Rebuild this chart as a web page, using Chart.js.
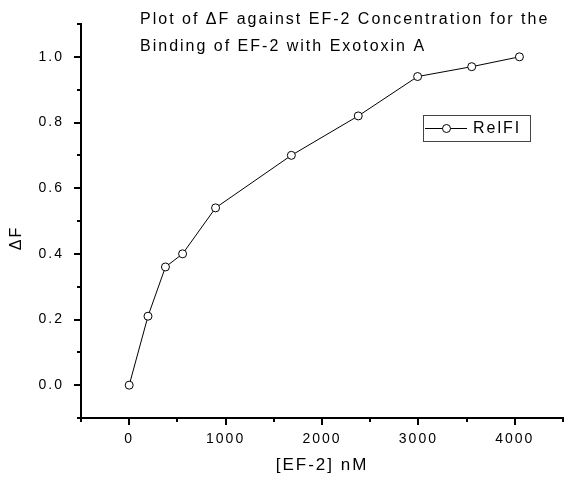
<!DOCTYPE html>
<html>
<head>
<meta charset="utf-8">
<script src="https://cdn.jsdelivr.net/npm/chart.js@4.4.1/dist/chart.umd.min.js"></script>
<style>
  html, body { margin: 0; padding: 0; background: #fff; }
  #wrap { width: 568px; height: 478px; }
</style>
</head>
<body>
<div id="wrap"><canvas id="chart" width="568" height="478"></canvas></div>
<script>
/* Delta F vs EF-2 concentration */
const concNM = [0, 195, 376, 554, 896, 1682, 2376, 2992, 3553, 4048];
const deltaF = [0.00, 0.21, 0.36, 0.40, 0.54, 0.70, 0.82, 0.94, 0.97, 1.00];
const xLabelTicks = [0, 1000, 2000, 3000, 4000];
const yLabelTicks = [0.0, 0.2, 0.4, 0.6, 0.8, 1.0];
const titleLines = ['Plot of \u0394F against EF-2 Concentration for the', 'Binding of EF-2 with Exotoxin A'];
const seriesName = 'RelFI';
const xTitle = '[EF-2] nM';
const yTitle = '\u0394F';

const FONT = '"Liberation Sans", Arial, Helvetica, sans-serif';

function isLabelTick(list, v) {
  return list.some(t => Math.abs(t - v) < 1e-6);
}

const decor = {
  id: 'decor',
  beforeLayout(chart) { chart.ctx.letterSpacing = '2px'; },
  beforeDraw(chart) { chart.ctx.letterSpacing = '2px'; },
  afterDraw(chart) {
    const ctx = chart.ctx;
    const xs = chart.scales.x;
    const ys = chart.scales.y;
    ctx.save();
    ctx.letterSpacing = '2px';
    ctx.strokeStyle = '#000';
    ctx.lineWidth = 2;

    // ticks, long for labelled ones, short for the rest
    xs.ticks.forEach(t => {
      const px = Math.round(xs.getPixelForValue(t.value));
      const len = isLabelTick(xLabelTicks, t.value) ? 7 : 4;
      ctx.beginPath();
      ctx.moveTo(px, xs.top);
      ctx.lineTo(px, xs.top + len);
      ctx.stroke();
    });
    ys.ticks.forEach(t => {
      const py = Math.round(ys.getPixelForValue(t.value));
      const len = isLabelTick(yLabelTicks, t.value) ? 7 : 4;
      ctx.beginPath();
      ctx.moveTo(ys.right, py);
      ctx.lineTo(ys.right - len, py);
      ctx.stroke();
    });

    // title
    ctx.fillStyle = '#000';
    ctx.font = '16px ' + FONT;
    ctx.textAlign = 'left';
    ctx.textBaseline = 'alphabetic';
    ctx.fillText(titleLines[0], 140, 24);
    ctx.fillText(titleLines[1], 140, 51);

    // y title
    ctx.save();
    ctx.translate(17, 238);
    ctx.rotate(-Math.PI / 2);
    ctx.textAlign = 'center';
    ctx.textBaseline = 'middle';
    ctx.fillText(yTitle, 0, 0);
    ctx.restore();

    // legend
    const bx = 423, by = 115, bw = 107, bh = 26;
    const cy = by + bh / 2;
    ctx.lineWidth = 1;
    ctx.strokeStyle = '#444';
    ctx.strokeRect(bx + 0.5, by + 0.5, bw, bh);
    ctx.strokeStyle = '#000';
    ctx.beginPath();
    ctx.moveTo(bx + 2, cy + 0.5);
    ctx.lineTo(bx + 44, cy + 0.5);
    ctx.stroke();
    ctx.beginPath();
    ctx.arc(bx + 23.5, cy + 0.5, 4, 0, Math.PI * 2);
    ctx.fillStyle = '#fff';
    ctx.fill();
    ctx.stroke();
    ctx.fillStyle = '#000';
    ctx.textAlign = 'left';
    ctx.textBaseline = 'middle';
    ctx.fillText(chart.data.datasets[0].label, bx + 50, cy + 1);

    ctx.restore();
  }
};

const points = concNM.map((x, i) => ({ x: x, y: deltaF[i] }));

new Chart(document.getElementById('chart'), {
  type: 'line',
  data: {
    datasets: [{
      label: seriesName,
      data: points,
      borderColor: '#000',
      borderWidth: 1,
      pointRadius: 4,
      pointBorderWidth: 1,
      pointBorderColor: '#000',
      pointBackgroundColor: '#fff',
      tension: 0,
      fill: false
    }]
  },
  options: {
    responsive: false,
    animation: false,
    layout: { padding: { top: 24, right: 0, left: 0, bottom: 0 } },
    plugins: {
      legend: { display: false },
      title: { display: false },
      tooltip: { enabled: false }
    },
    scales: {
      x: {
        type: 'linear',
        min: -500,
        max: 4500,
        afterFit: s => { s.height = 60; s.paddingLeft = 0; s.paddingRight = 0; },
        border: { display: true, color: '#000', width: 2 },
        grid: { display: false, drawTicks: false },
        ticks: {
          stepSize: 500,
          padding: 13,
          color: '#000',
          font: { family: FONT, size: 14 },
          maxRotation: 0,
          autoSkip: false,
          callback: v => isLabelTick(xLabelTicks, v) ? String(Math.round(v)) : ''
        },
        title: {
          display: true,
          text: xTitle,
          color: '#000',
          font: { family: FONT, size: 17 },
          padding: { top: 0, bottom: 2 }
        }
      },
      y: {
        type: 'linear',
        min: -0.1,
        max: 1.1,
        afterFit: s => { s.width = 81; s.paddingTop = 0; s.paddingBottom = 0; },
        border: { display: true, color: '#000', width: 2 },
        grid: { display: false, drawTicks: false },
        ticks: {
          stepSize: 0.1,
          padding: 17,
          color: '#000',
          font: { family: FONT, size: 14 },
          autoSkip: false,
          callback: v => isLabelTick(yLabelTicks, v) ? v.toFixed(1) : ''
        }
      }
    }
  },
  plugins: [decor]
});
</script>
</body>
</html>
